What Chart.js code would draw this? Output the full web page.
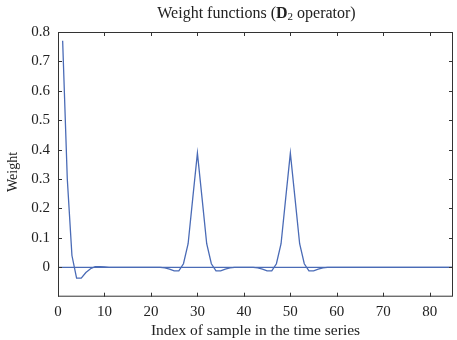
<!DOCTYPE html>
<html>
<head>
<meta charset="utf-8">
<script src="https://cdn.jsdelivr.net/npm/chart.js@4"></script>
<style>
  html, body { margin: 0; padding: 0; background: #fff; }
  #wrap { position: relative; width: 457px; height: 340px; }
  #title {
    position: absolute; left: 0; right: 0; top: 4px;
    padding-left: 56px;
    text-align: center;
    font-family: "Liberation Serif", "DejaVu Serif", serif;
    font-size: 16px; color: #222;
  }
  #title sub { font-size: 11px; vertical-align: -2px; line-height: 0; }
</style>
</head>
<body>
<div id="wrap">
  <canvas id="chart" width="457" height="340"></canvas>
  <div id="title">Weight functions (<b>D</b><sub>2</sub> operator)</div>
</div>
<script>
// weight per sample, sample index starts at 1
const weights = [
    0.77, 0.30, 0.04, -0.037, -0.037, -0.018, -0.005, 0.002, 0.002, 0.001,
    0, 0, 0, 0, 0, 0, 0, 0, 0, 0,
    0, 0, -0.002, -0.006, -0.012, -0.012, 0.012, 0.08, 0.235, 0.388,
    0.235, 0.08, 0.012, -0.012, -0.012, -0.006, -0.002, 0, 0, 0,
    0, 0, -0.002, -0.006, -0.012, -0.012, 0.012, 0.08, 0.235, 0.388,
    0.235, 0.08, 0.012, -0.012, -0.012, -0.006, -0.002, 0, 0, 0,
    0, 0, 0, 0, 0, 0, 0, 0, 0, 0,
    0, 0, 0, 0, 0, 0, 0, 0, 0, 0,
    0, 0, 0, 0, 0
];
const zeroLineX = [0, 85];
const xTicks = [0, 10, 20, 30, 40, 50, 60, 70, 80];
const yTicks = [0, 0.1, 0.2, 0.3, 0.4, 0.5, 0.6, 0.7, 0.8];

const lineColor = '#4a6bb6';
const axisColor = '#333';
const serif = '"Liberation Serif", "DejaVu Serif", serif';

// frame + inward ticks on all sides, y title drawn a bit below centre like the original
const framePlugin = {
    id: 'frame',
    afterDraw(chart) {
        const { ctx, chartArea: a, scales } = chart;
        ctx.save();
        ctx.strokeStyle = axisColor;
        ctx.lineWidth = 1;
        ctx.strokeRect(a.left + 0.5, a.top + 0.5, a.right - a.left - 1, a.bottom - a.top - 1);
        const len = 4;
        ctx.beginPath();
        xTicks.forEach(v => {
            const px = Math.round(scales.x.getPixelForValue(v)) + 0.5;
            ctx.moveTo(px, a.bottom); ctx.lineTo(px, a.bottom - len);
            ctx.moveTo(px, a.top); ctx.lineTo(px, a.top + len);
        });
        yTicks.forEach(v => {
            const py = Math.round(scales.y.getPixelForValue(v)) + 0.5;
            ctx.moveTo(a.left, py); ctx.lineTo(a.left + len, py);
            ctx.moveTo(a.right, py); ctx.lineTo(a.right - len, py);
        });
        ctx.stroke();

        ctx.translate(13, 172);
        ctx.rotate(-Math.PI / 2);
        ctx.fillStyle = '#222';
        ctx.font = '14px ' + serif;
        ctx.textAlign = 'center';
        ctx.textBaseline = 'middle';
        ctx.fillText('Weight', 0, 0);
        ctx.restore();
    }
};

new Chart(document.getElementById('chart'), {
    type: 'line',
    data: {
        datasets: [{
            data: zeroLineX.map(x => ({ x: x, y: 0 })),
            borderColor: lineColor,
            borderWidth: 1.2,
            pointRadius: 0
        }, {
            data: weights.map((w, i) => ({ x: i + 1, y: w })),
            borderColor: lineColor,
            borderWidth: 1.3,
            pointRadius: 0,
            tension: 0
        }]
    },
    options: {
        responsive: false,
        animation: false,
        layout: { padding: { top: 32, right: 4, left: 0, bottom: 0 } },
        plugins: { legend: { display: false }, tooltip: { enabled: false } },
        scales: {
            x: {
                type: 'linear',
                min: 0,
                max: 85,
                afterBuildTicks: s => { s.ticks = xTicks.map(v => ({ value: v })); },
                afterFit: s => { s.height = 43.3; },
                grid: { display: false, drawTicks: false },
                border: { display: false },
                ticks: { color: '#222', padding: 6, maxRotation: 0, font: { family: serif, size: 15 } },
                title: {
                    display: true,
                    text: 'Index of sample in the time series',
                    color: '#222',
                    padding: { top: 0, bottom: 0 },
                    font: { family: serif, size: 15.5 }
                }
            },
            y: {
                min: -0.1,
                max: 0.8,
                afterBuildTicks: s => { s.ticks = yTicks.map(v => ({ value: v })); },
                afterFit: s => { s.width = 58; },
                grid: { display: false, drawTicks: false },
                border: { display: false },
                ticks: {
                    color: '#222', padding: 8,
                    font: { family: serif, size: 15 },
                    callback: v => (v === 0 ? '0' : v.toFixed(1))
                }
            }
        }
    },
    plugins: [framePlugin]
});
</script>
</body>
</html>
